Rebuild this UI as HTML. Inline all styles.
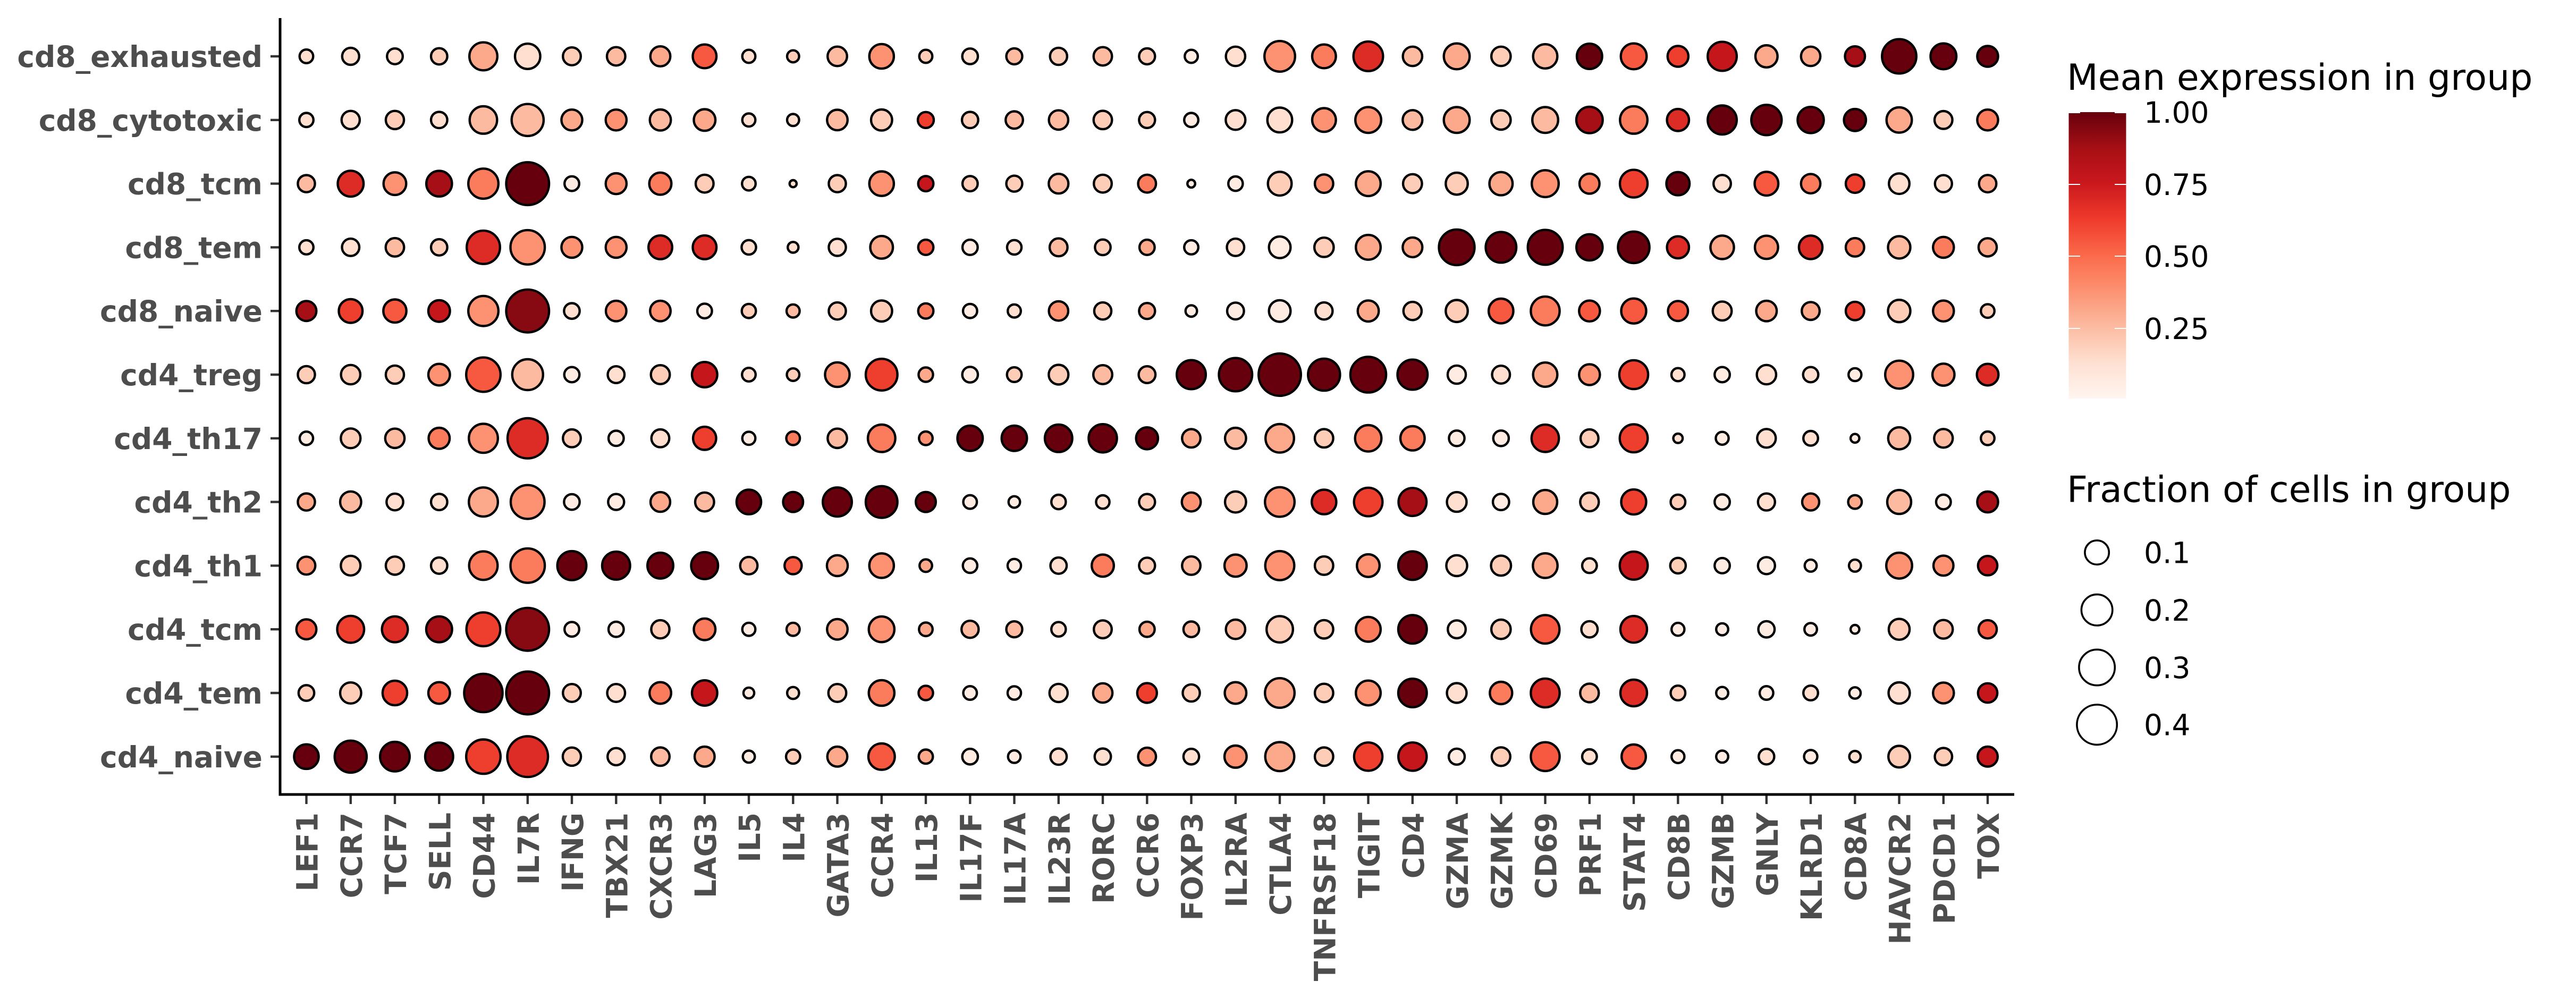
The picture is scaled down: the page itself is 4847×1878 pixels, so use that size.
<!DOCTYPE html>
<html><head><meta charset="utf-8"><style>
html,body{margin:0;padding:0;background:#fff}
svg{display:block}
.k0{fill:#FEEBE2}.k1{fill:#FEDFD0}.k2{fill:#FDCDB8}.k3{fill:#FCBBA1}.k4{fill:#FCA88B}.k5{fill:#FC9272}.k6{fill:#FB7C5C}.k7{fill:#F6593F}.k8{fill:#EE3E2D}.k9{fill:#DC2C25}.k10{fill:#C5161C}.k11{fill:#A50F15}.k12{fill:#870912}.k13{fill:#67000D}
.d circle{stroke:#000;stroke-width:4.4}
.yl{font-family:"DejaVu Sans","Liberation Sans",sans-serif;font-weight:bold;font-size:55px;fill:#4D4D4D;text-anchor:end}
.lg{font-family:"DejaVu Sans","Liberation Sans",sans-serif;fill:#000}
</style></head><body>
<svg width="4847" height="1878" viewBox="0 0 4847 1878" xmlns="http://www.w3.org/2000/svg">
<defs><linearGradient id="reds" x1="0" y1="0" x2="0" y2="1">
<stop offset="0" stop-color="#67000D"/><stop offset="0.125" stop-color="#A50F15"/><stop offset="0.25" stop-color="#CB181D"/><stop offset="0.375" stop-color="#EF3B2C"/><stop offset="0.5" stop-color="#FB6A4A"/><stop offset="0.625" stop-color="#FC9272"/><stop offset="0.75" stop-color="#FCBBA1"/><stop offset="0.875" stop-color="#FEE0D2"/><stop offset="1" stop-color="#FFF5F0"/>
</linearGradient></defs>
<rect width="4847" height="1878" fill="#fff"/>

<!-- y labels -->
<g class="yl">
<text x="494" y="126">cd8_exhausted</text>
<text x="494" y="245.8">cd8_cytotoxic</text>
<text x="494" y="365.6">cd8_tcm</text>
<text x="494" y="485.4">cd8_tem</text>
<text x="494" y="605.2">cd8_naive</text>
<text x="494" y="725">cd4_treg</text>
<text x="494" y="844.8">cd4_th17</text>
<text x="494" y="964.6">cd4_th2</text>
<text x="494" y="1084.4">cd4_th1</text>
<text x="494" y="1204.2">cd4_tcm</text>
<text x="494" y="1324">cd4_tem</text>
<text x="494" y="1443.8">cd4_naive</text>
</g>

<!-- ticks -->
<g stroke="#333" stroke-width="4.4">
<line x1="509" x2="527" y1="106" y2="106"/><line x1="509" x2="527" y1="225.8" y2="225.8"/><line x1="509" x2="527" y1="345.6" y2="345.6"/><line x1="509" x2="527" y1="465.4" y2="465.4"/><line x1="509" x2="527" y1="585.2" y2="585.2"/><line x1="509" x2="527" y1="705" y2="705"/><line x1="509" x2="527" y1="824.8" y2="824.8"/><line x1="509" x2="527" y1="944.6" y2="944.6"/><line x1="509" x2="527" y1="1064.4" y2="1064.4"/><line x1="509" x2="527" y1="1184.2" y2="1184.2"/><line x1="509" x2="527" y1="1304" y2="1304"/><line x1="509" x2="527" y1="1423.8" y2="1423.8"/>
<line x1="576.5" x2="576.5" y1="1495" y2="1513"/><line x1="659.8" x2="659.8" y1="1495" y2="1513"/><line x1="743" x2="743" y1="1495" y2="1513"/><line x1="826.3" x2="826.3" y1="1495" y2="1513"/><line x1="909.5" x2="909.5" y1="1495" y2="1513"/><line x1="992.8" x2="992.8" y1="1495" y2="1513"/><line x1="1076" x2="1076" y1="1495" y2="1513"/><line x1="1159.3" x2="1159.3" y1="1495" y2="1513"/><line x1="1242.5" x2="1242.5" y1="1495" y2="1513"/><line x1="1325.8" x2="1325.8" y1="1495" y2="1513"/><line x1="1409" x2="1409" y1="1495" y2="1513"/><line x1="1492.3" x2="1492.3" y1="1495" y2="1513"/><line x1="1575.5" x2="1575.5" y1="1495" y2="1513"/><line x1="1658.8" x2="1658.8" y1="1495" y2="1513"/><line x1="1742" x2="1742" y1="1495" y2="1513"/><line x1="1825.3" x2="1825.3" y1="1495" y2="1513"/><line x1="1908.5" x2="1908.5" y1="1495" y2="1513"/><line x1="1991.8" x2="1991.8" y1="1495" y2="1513"/><line x1="2075" x2="2075" y1="1495" y2="1513"/><line x1="2158.3" x2="2158.3" y1="1495" y2="1513"/><line x1="2241.5" x2="2241.5" y1="1495" y2="1513"/><line x1="2324.8" x2="2324.8" y1="1495" y2="1513"/><line x1="2408" x2="2408" y1="1495" y2="1513"/><line x1="2491.3" x2="2491.3" y1="1495" y2="1513"/><line x1="2574.5" x2="2574.5" y1="1495" y2="1513"/><line x1="2657.8" x2="2657.8" y1="1495" y2="1513"/><line x1="2741" x2="2741" y1="1495" y2="1513"/><line x1="2824.3" x2="2824.3" y1="1495" y2="1513"/><line x1="2907.5" x2="2907.5" y1="1495" y2="1513"/><line x1="2990.8" x2="2990.8" y1="1495" y2="1513"/><line x1="3074" x2="3074" y1="1495" y2="1513"/><line x1="3157.3" x2="3157.3" y1="1495" y2="1513"/><line x1="3240.5" x2="3240.5" y1="1495" y2="1513"/><line x1="3323.8" x2="3323.8" y1="1495" y2="1513"/><line x1="3407" x2="3407" y1="1495" y2="1513"/><line x1="3490.3" x2="3490.3" y1="1495" y2="1513"/><line x1="3573.5" x2="3573.5" y1="1495" y2="1513"/><line x1="3656.8" x2="3656.8" y1="1495" y2="1513"/><line x1="3740" x2="3740" y1="1495" y2="1513"/>
</g>

<!-- axis lines -->
<line x1="527" y1="34" x2="527" y2="1497.5" stroke="#000" stroke-width="5"/>
<line x1="524.5" y1="1495" x2="3790" y2="1495" stroke="#000" stroke-width="5"/>

<!-- x labels -->
<g class="yl">
<text transform="translate(597.5,1529) rotate(-90)">LEF1</text>
<text transform="translate(680.8,1529) rotate(-90)">CCR7</text>
<text transform="translate(764,1529) rotate(-90)">TCF7</text>
<text transform="translate(847.3,1529) rotate(-90)">SELL</text>
<text transform="translate(930.5,1529) rotate(-90)">CD44</text>
<text transform="translate(1013.8,1529) rotate(-90)">IL7R</text>
<text transform="translate(1097,1529) rotate(-90)">IFNG</text>
<text transform="translate(1180.3,1529) rotate(-90)">TBX21</text>
<text transform="translate(1263.5,1529) rotate(-90)">CXCR3</text>
<text transform="translate(1346.8,1529) rotate(-90)">LAG3</text>
<text transform="translate(1430,1529) rotate(-90)">IL5</text>
<text transform="translate(1513.3,1529) rotate(-90)">IL4</text>
<text transform="translate(1596.5,1529) rotate(-90)">GATA3</text>
<text transform="translate(1679.8,1529) rotate(-90)">CCR4</text>
<text transform="translate(1763,1529) rotate(-90)">IL13</text>
<text transform="translate(1846.3,1529) rotate(-90)">IL17F</text>
<text transform="translate(1929.5,1529) rotate(-90)">IL17A</text>
<text transform="translate(2012.8,1529) rotate(-90)">IL23R</text>
<text transform="translate(2096,1529) rotate(-90)">RORC</text>
<text transform="translate(2179.3,1529) rotate(-90)">CCR6</text>
<text transform="translate(2262.5,1529) rotate(-90)">FOXP3</text>
<text transform="translate(2345.8,1529) rotate(-90)">IL2RA</text>
<text transform="translate(2429,1529) rotate(-90)">CTLA4</text>
<text transform="translate(2512.3,1529) rotate(-90)">TNFRSF18</text>
<text transform="translate(2595.5,1529) rotate(-90)">TIGIT</text>
<text transform="translate(2678.8,1529) rotate(-90)">CD4</text>
<text transform="translate(2762,1529) rotate(-90)">GZMA</text>
<text transform="translate(2845.3,1529) rotate(-90)">GZMK</text>
<text transform="translate(2928.5,1529) rotate(-90)">CD69</text>
<text transform="translate(3011.8,1529) rotate(-90)">PRF1</text>
<text transform="translate(3095,1529) rotate(-90)">STAT4</text>
<text transform="translate(3178.3,1529) rotate(-90)">CD8B</text>
<text transform="translate(3261.5,1529) rotate(-90)">GZMB</text>
<text transform="translate(3344.8,1529) rotate(-90)">GNLY</text>
<text transform="translate(3428,1529) rotate(-90)">KLRD1</text>
<text transform="translate(3511.3,1529) rotate(-90)">CD8A</text>
<text transform="translate(3594.5,1529) rotate(-90)">HAVCR2</text>
<text transform="translate(3677.8,1529) rotate(-90)">PDCD1</text>
<text transform="translate(3761,1529) rotate(-90)">TOX</text>
</g>

<!-- dots -->
<g class="d">
<g transform="translate(0,106)">
<circle cx="576.5" r="12.8" class="k1"/><circle cx="659.8" r="16" class="k1"/><circle cx="743" r="14.8" class="k1"/><circle cx="826.3" r="15.3" class="k2"/><circle cx="909.5" r="26.3" class="k4"/><circle cx="992.8" r="23.8" class="k1"/><circle cx="1076" r="16.8" class="k2"/><circle cx="1159.3" r="17.3" class="k3"/><circle cx="1242.5" r="18.8" class="k4"/><circle cx="1325.8" r="22.3" class="k7"/><circle cx="1409" r="12.3" class="k1"/><circle cx="1492.3" r="11.3" class="k2"/><circle cx="1575.5" r="18.3" class="k3"/><circle cx="1658.8" r="23.1" class="k5"/><circle cx="1742" r="12.3" class="k2"/><circle cx="1825.3" r="14.7" class="k1"/><circle cx="1908.5" r="15" class="k3"/><circle cx="1991.8" r="16.1" class="k2"/><circle cx="2075" r="17.3" class="k3"/><circle cx="2158.3" r="15" class="k2"/><circle cx="2241.5" r="12.3" class="k0"/><circle cx="2324.8" r="18.2" class="k1"/><circle cx="2408" r="28.8" class="k5"/><circle cx="2491.3" r="22.3" class="k6"/><circle cx="2574.5" r="27.8" class="k9"/><circle cx="2657.8" r="18.2" class="k3"/><circle cx="2741" r="24.3" class="k4"/><circle cx="2824.3" r="18.2" class="k2"/><circle cx="2907.5" r="22.8" class="k3"/><circle cx="2990.8" r="23.8" class="k13"/><circle cx="3074" r="24.3" class="k7"/><circle cx="3157.3" r="19.6" class="k8"/><circle cx="3240.5" r="27.3" class="k10"/><circle cx="3323.8" r="20.8" class="k4"/><circle cx="3407" r="18.2" class="k4"/><circle cx="3490.3" r="18.8" class="k11"/><circle cx="3573.5" r="32.3" class="k13"/><circle cx="3656.8" r="24.3" class="k13"/><circle cx="3740" r="19.6" class="k13"/>
</g>
<g transform="translate(0,225.8)">
<circle cx="576.5" r="13.3" class="k1"/><circle cx="659.8" r="17.1" class="k1"/><circle cx="743" r="17.1" class="k2"/><circle cx="826.3" r="15.3" class="k1"/><circle cx="909.5" r="25.8" class="k3"/><circle cx="992.8" r="30.1" class="k3"/><circle cx="1076" r="19.6" class="k4"/><circle cx="1159.3" r="19.6" class="k5"/><circle cx="1242.5" r="19.8" class="k3"/><circle cx="1325.8" r="20.3" class="k4"/><circle cx="1409" r="12.3" class="k1"/><circle cx="1492.3" r="11.3" class="k1"/><circle cx="1575.5" r="19.3" class="k3"/><circle cx="1658.8" r="19.8" class="k2"/><circle cx="1742" r="15" class="k8"/><circle cx="1825.3" r="15.3" class="k2"/><circle cx="1908.5" r="16.3" class="k3"/><circle cx="1991.8" r="18.2" class="k3"/><circle cx="2075" r="17.3" class="k2"/><circle cx="2158.3" r="15" class="k2"/><circle cx="2241.5" r="13.3" class="k0"/><circle cx="2324.8" r="18.5" class="k1"/><circle cx="2408" r="23.3" class="k1"/><circle cx="2491.3" r="22.3" class="k5"/><circle cx="2574.5" r="24.3" class="k5"/><circle cx="2657.8" r="18.5" class="k3"/><circle cx="2741" r="24.3" class="k4"/><circle cx="2824.3" r="18.2" class="k2"/><circle cx="2907.5" r="24.3" class="k3"/><circle cx="2990.8" r="24.8" class="k11"/><circle cx="3074" r="25.8" class="k6"/><circle cx="3157.3" r="20.7" class="k9"/><circle cx="3240.5" r="27.3" class="k13"/><circle cx="3323.8" r="28.5" class="k13"/><circle cx="3407" r="24.6" class="k13"/><circle cx="3490.3" r="20.7" class="k13"/><circle cx="3573.5" r="23.8" class="k4"/><circle cx="3656.8" r="16.8" class="k2"/><circle cx="3740" r="19.6" class="k6"/>
</g>
<g transform="translate(0,345.6)">
<circle cx="576.5" r="16.1" class="k3"/><circle cx="659.8" r="24.3" class="k9"/><circle cx="743" r="21.3" class="k5"/><circle cx="826.3" r="24.1" class="k11"/><circle cx="909.5" r="28.3" class="k6"/><circle cx="992.8" r="40.3" class="k13"/><circle cx="1076" r="13.8" class="k0"/><circle cx="1159.3" r="19.6" class="k5"/><circle cx="1242.5" r="20.8" class="k6"/><circle cx="1325.8" r="16.8" class="k2"/><circle cx="1409" r="12.8" class="k1"/><circle cx="1492.3" r="6.6" class="k1"/><circle cx="1575.5" r="16.1" class="k2"/><circle cx="1658.8" r="23.1" class="k5"/><circle cx="1742" r="14.3" class="k10"/><circle cx="1825.3" r="14.3" class="k2"/><circle cx="1908.5" r="15" class="k2"/><circle cx="1991.8" r="18.5" class="k3"/><circle cx="2075" r="16.8" class="k2"/><circle cx="2158.3" r="16.8" class="k6"/><circle cx="2241.5" r="7.3" class="k0"/><circle cx="2324.8" r="13.6" class="k0"/><circle cx="2408" r="22.3" class="k2"/><circle cx="2491.3" r="17.3" class="k5"/><circle cx="2574.5" r="23.3" class="k4"/><circle cx="2657.8" r="17.8" class="k2"/><circle cx="2741" r="20.7" class="k2"/><circle cx="2824.3" r="21.8" class="k4"/><circle cx="2907.5" r="25.3" class="k5"/><circle cx="2990.8" r="18.8" class="k6"/><circle cx="3074" r="26" class="k8"/><circle cx="3157.3" r="21.8" class="k13"/><circle cx="3240.5" r="16.3" class="k1"/><circle cx="3323.8" r="22.3" class="k7"/><circle cx="3407" r="18.2" class="k6"/><circle cx="3490.3" r="17.3" class="k8"/><circle cx="3573.5" r="19.3" class="k1"/><circle cx="3656.8" r="16" class="k1"/><circle cx="3740" r="16.3" class="k4"/>
</g>
<g transform="translate(0,465.4)">
<circle cx="576.5" r="13.3" class="k1"/><circle cx="659.8" r="16.3" class="k1"/><circle cx="743" r="17.3" class="k3"/><circle cx="826.3" r="15.3" class="k2"/><circle cx="909.5" r="31.3" class="k9"/><circle cx="992.8" r="32.3" class="k5"/><circle cx="1076" r="19.6" class="k5"/><circle cx="1159.3" r="19.6" class="k5"/><circle cx="1242.5" r="22.3" class="k9"/><circle cx="1325.8" r="22.3" class="k9"/><circle cx="1409" r="13.6" class="k1"/><circle cx="1492.3" r="10.1" class="k1"/><circle cx="1575.5" r="16.1" class="k1"/><circle cx="1658.8" r="21.3" class="k4"/><circle cx="1742" r="14.3" class="k7"/><circle cx="1825.3" r="14.3" class="k0"/><circle cx="1908.5" r="13.6" class="k1"/><circle cx="1991.8" r="16.8" class="k3"/><circle cx="2075" r="14.7" class="k2"/><circle cx="2158.3" r="14.3" class="k4"/><circle cx="2241.5" r="13.3" class="k0"/><circle cx="2324.8" r="16.3" class="k1"/><circle cx="2408" r="20.3" class="k0"/><circle cx="2491.3" r="18.2" class="k2"/><circle cx="2574.5" r="23.3" class="k4"/><circle cx="2657.8" r="18.5" class="k4"/><circle cx="2741" r="33.5" class="k13"/><circle cx="2824.3" r="28.8" class="k13"/><circle cx="2907.5" r="32.8" class="k13"/><circle cx="2990.8" r="24.6" class="k13"/><circle cx="3074" r="29.6" class="k13"/><circle cx="3157.3" r="20.7" class="k9"/><circle cx="3240.5" r="22.1" class="k4"/><circle cx="3323.8" r="21.8" class="k5"/><circle cx="3407" r="22.1" class="k9"/><circle cx="3490.3" r="17.3" class="k6"/><circle cx="3573.5" r="21" class="k3"/><circle cx="3656.8" r="19.6" class="k6"/><circle cx="3740" r="17.1" class="k4"/>
</g>
<g transform="translate(0,585.2)">
<circle cx="576.5" r="18.8" class="k11"/><circle cx="659.8" r="22.3" class="k8"/><circle cx="743" r="21.7" class="k7"/><circle cx="826.3" r="20.3" class="k10"/><circle cx="909.5" r="28.3" class="k5"/><circle cx="992.8" r="40.3" class="k12"/><circle cx="1076" r="14.7" class="k1"/><circle cx="1159.3" r="19.3" class="k5"/><circle cx="1242.5" r="19.3" class="k5"/><circle cx="1325.8" r="13.8" class="k0"/><circle cx="1409" r="13.3" class="k2"/><circle cx="1492.3" r="12.3" class="k3"/><circle cx="1575.5" r="16.1" class="k2"/><circle cx="1658.8" r="19.8" class="k2"/><circle cx="1742" r="14.3" class="k6"/><circle cx="1825.3" r="13.3" class="k0"/><circle cx="1908.5" r="12.3" class="k1"/><circle cx="1991.8" r="18.2" class="k5"/><circle cx="2075" r="16.1" class="k2"/><circle cx="2158.3" r="15" class="k4"/><circle cx="2241.5" r="10.8" class="k0"/><circle cx="2324.8" r="15.8" class="k0"/><circle cx="2408" r="20.3" class="k0"/><circle cx="2491.3" r="16.1" class="k1"/><circle cx="2574.5" r="19.8" class="k4"/><circle cx="2657.8" r="17.1" class="k2"/><circle cx="2741" r="20.7" class="k2"/><circle cx="2824.3" r="23.2" class="k7"/><circle cx="2907.5" r="27.1" class="k6"/><circle cx="2990.8" r="19.6" class="k7"/><circle cx="3074" r="23.5" class="k7"/><circle cx="3157.3" r="18.8" class="k7"/><circle cx="3240.5" r="17.8" class="k2"/><circle cx="3323.8" r="19.3" class="k4"/><circle cx="3407" r="16.8" class="k4"/><circle cx="3490.3" r="17.3" class="k8"/><circle cx="3573.5" r="21" class="k2"/><circle cx="3656.8" r="19.6" class="k5"/><circle cx="3740" r="12.8" class="k2"/>
</g>
<g transform="translate(0,705)">
<circle cx="576.5" r="16.1" class="k2"/><circle cx="659.8" r="18.2" class="k2"/><circle cx="743" r="17.1" class="k2"/><circle cx="826.3" r="20.3" class="k5"/><circle cx="909.5" r="32.3" class="k7"/><circle cx="992.8" r="29" class="k3"/><circle cx="1076" r="14.3" class="k0"/><circle cx="1159.3" r="15.8" class="k1"/><circle cx="1242.5" r="17.8" class="k2"/><circle cx="1325.8" r="23.8" class="k10"/><circle cx="1409" r="12.8" class="k1"/><circle cx="1492.3" r="11.8" class="k2"/><circle cx="1575.5" r="23.1" class="k5"/><circle cx="1658.8" r="29.8" class="k8"/><circle cx="1742" r="13.6" class="k4"/><circle cx="1825.3" r="14.7" class="k0"/><circle cx="1908.5" r="13.8" class="k2"/><circle cx="1991.8" r="18.5" class="k2"/><circle cx="2075" r="17.8" class="k3"/><circle cx="2158.3" r="15.8" class="k3"/><circle cx="2241.5" r="27.3" class="k13"/><circle cx="2324.8" r="31.3" class="k13"/><circle cx="2408" r="39.8" class="k13"/><circle cx="2491.3" r="30.1" class="k13"/><circle cx="2574.5" r="33.6" class="k13"/><circle cx="2657.8" r="28.3" class="k13"/><circle cx="2741" r="17.1" class="k0"/><circle cx="2824.3" r="16.8" class="k1"/><circle cx="2907.5" r="22.8" class="k4"/><circle cx="2990.8" r="19.6" class="k5"/><circle cx="3074" r="27.1" class="k8"/><circle cx="3157.3" r="12.3" class="k1"/><circle cx="3240.5" r="14.3" class="k0"/><circle cx="3323.8" r="18.2" class="k1"/><circle cx="3407" r="14.3" class="k1"/><circle cx="3490.3" r="12.1" class="k0"/><circle cx="3573.5" r="26.3" class="k5"/><circle cx="3656.8" r="20.7" class="k5"/><circle cx="3740" r="20.3" class="k9"/>
</g>
<g transform="translate(0,824.8)">
<circle cx="576.5" r="12.6" class="k0"/><circle cx="659.8" r="18.5" class="k2"/><circle cx="743" r="18.2" class="k3"/><circle cx="826.3" r="19.8" class="k6"/><circle cx="909.5" r="27.3" class="k5"/><circle cx="992.8" r="37.8" class="k9"/><circle cx="1076" r="16.8" class="k2"/><circle cx="1159.3" r="14.3" class="k0"/><circle cx="1242.5" r="16.8" class="k1"/><circle cx="1325.8" r="21.7" class="k8"/><circle cx="1409" r="12.3" class="k0"/><circle cx="1492.3" r="12.8" class="k6"/><circle cx="1575.5" r="18.2" class="k3"/><circle cx="1658.8" r="25.8" class="k6"/><circle cx="1742" r="12.8" class="k5"/><circle cx="1825.3" r="23.8" class="k13"/><circle cx="1908.5" r="23.8" class="k13"/><circle cx="1991.8" r="25.8" class="k13"/><circle cx="2075" r="26.6" class="k13"/><circle cx="2158.3" r="20.6" class="k13"/><circle cx="2241.5" r="17.3" class="k4"/><circle cx="2324.8" r="19.8" class="k3"/><circle cx="2408" r="26.8" class="k4"/><circle cx="2491.3" r="17.3" class="k2"/><circle cx="2574.5" r="24.8" class="k6"/><circle cx="2657.8" r="22.8" class="k6"/><circle cx="2741" r="14.6" class="k0"/><circle cx="2824.3" r="14.6" class="k0"/><circle cx="2907.5" r="25.7" class="k9"/><circle cx="2990.8" r="16.8" class="k2"/><circle cx="3074" r="26.3" class="k8"/><circle cx="3157.3" r="8.8" class="k1"/><circle cx="3240.5" r="12.1" class="k0"/><circle cx="3323.8" r="17.5" class="k1"/><circle cx="3407" r="13.8" class="k1"/><circle cx="3490.3" r="8.2" class="k0"/><circle cx="3573.5" r="20.7" class="k3"/><circle cx="3656.8" r="17.5" class="k3"/><circle cx="3740" r="12.8" class="k2"/>
</g>
<g transform="translate(0,944.6)">
<circle cx="576.5" r="16.1" class="k4"/><circle cx="659.8" r="19.8" class="k3"/><circle cx="743" r="15.7" class="k1"/><circle cx="826.3" r="15.3" class="k1"/><circle cx="909.5" r="27.3" class="k4"/><circle cx="992.8" r="31.8" class="k5"/><circle cx="1076" r="14.7" class="k0"/><circle cx="1159.3" r="15" class="k0"/><circle cx="1242.5" r="18.5" class="k4"/><circle cx="1325.8" r="17.8" class="k3"/><circle cx="1409" r="23.1" class="k13"/><circle cx="1492.3" r="18.8" class="k13"/><circle cx="1575.5" r="27.3" class="k13"/><circle cx="1658.8" r="29.8" class="k13"/><circle cx="1742" r="18.8" class="k13"/><circle cx="1825.3" r="12.8" class="k0"/><circle cx="1908.5" r="10.8" class="k0"/><circle cx="1991.8" r="13.6" class="k1"/><circle cx="2075" r="12.6" class="k1"/><circle cx="2158.3" r="15" class="k2"/><circle cx="2241.5" r="17.8" class="k5"/><circle cx="2324.8" r="19.8" class="k2"/><circle cx="2408" r="27.8" class="k5"/><circle cx="2491.3" r="23.1" class="k9"/><circle cx="2574.5" r="26.8" class="k8"/><circle cx="2657.8" r="26.3" class="k11"/><circle cx="2741" r="18.5" class="k1"/><circle cx="2824.3" r="15.3" class="k0"/><circle cx="2907.5" r="22.5" class="k4"/><circle cx="2990.8" r="17.5" class="k2"/><circle cx="3074" r="23.5" class="k8"/><circle cx="3157.3" r="13.8" class="k2"/><circle cx="3240.5" r="14.3" class="k0"/><circle cx="3323.8" r="16" class="k1"/><circle cx="3407" r="16" class="k5"/><circle cx="3490.3" r="12.8" class="k4"/><circle cx="3573.5" r="22.5" class="k3"/><circle cx="3656.8" r="13.8" class="k0"/><circle cx="3740" r="19.6" class="k11"/>
</g>
<g transform="translate(0,1064.4)">
<circle cx="576.5" r="16.8" class="k5"/><circle cx="659.8" r="18.5" class="k2"/><circle cx="743" r="17.1" class="k2"/><circle cx="826.3" r="15.3" class="k1"/><circle cx="909.5" r="26.8" class="k6"/><circle cx="992.8" r="32.3" class="k6"/><circle cx="1076" r="27.3" class="k13"/><circle cx="1159.3" r="26.3" class="k13"/><circle cx="1242.5" r="24.3" class="k13"/><circle cx="1325.8" r="25.3" class="k13"/><circle cx="1409" r="16.3" class="k3"/><circle cx="1492.3" r="16.1" class="k7"/><circle cx="1575.5" r="19.6" class="k4"/><circle cx="1658.8" r="23.1" class="k5"/><circle cx="1742" r="11.8" class="k4"/><circle cx="1825.3" r="13.6" class="k0"/><circle cx="1908.5" r="12.6" class="k0"/><circle cx="1991.8" r="15.3" class="k1"/><circle cx="2075" r="20.8" class="k6"/><circle cx="2158.3" r="15" class="k2"/><circle cx="2241.5" r="17.3" class="k3"/><circle cx="2324.8" r="20.8" class="k5"/><circle cx="2408" r="27.3" class="k5"/><circle cx="2491.3" r="17.3" class="k2"/><circle cx="2574.5" r="21.3" class="k5"/><circle cx="2657.8" r="26.8" class="k13"/><circle cx="2741" r="19.6" class="k1"/><circle cx="2824.3" r="18.8" class="k2"/><circle cx="2907.5" r="23.2" class="k4"/><circle cx="2990.8" r="13.8" class="k1"/><circle cx="3074" r="26.3" class="k10"/><circle cx="3157.3" r="14.6" class="k2"/><circle cx="3240.5" r="14.3" class="k0"/><circle cx="3323.8" r="16" class="k0"/><circle cx="3407" r="11.3" class="k0"/><circle cx="3490.3" r="11.3" class="k1"/><circle cx="3573.5" r="24.3" class="k5"/><circle cx="3656.8" r="18.8" class="k5"/><circle cx="3740" r="18.2" class="k10"/>
</g>
<g transform="translate(0,1184.2)">
<circle cx="576.5" r="18.8" class="k7"/><circle cx="659.8" r="25.3" class="k8"/><circle cx="743" r="24.3" class="k9"/><circle cx="826.3" r="24.3" class="k11"/><circle cx="909.5" r="31.8" class="k8"/><circle cx="992.8" r="40.3" class="k12"/><circle cx="1076" r="13.8" class="k0"/><circle cx="1159.3" r="14.3" class="k0"/><circle cx="1242.5" r="17.1" class="k2"/><circle cx="1325.8" r="20.3" class="k6"/><circle cx="1409" r="12.3" class="k0"/><circle cx="1492.3" r="12.3" class="k3"/><circle cx="1575.5" r="19.3" class="k4"/><circle cx="1658.8" r="24.1" class="k5"/><circle cx="1742" r="12.8" class="k4"/><circle cx="1825.3" r="16.1" class="k3"/><circle cx="1908.5" r="15" class="k3"/><circle cx="1991.8" r="13.6" class="k1"/><circle cx="2075" r="16.8" class="k2"/><circle cx="2158.3" r="14.3" class="k4"/><circle cx="2241.5" r="14.7" class="k3"/><circle cx="2324.8" r="18.2" class="k3"/><circle cx="2408" r="24.8" class="k2"/><circle cx="2491.3" r="17.3" class="k2"/><circle cx="2574.5" r="23.3" class="k6"/><circle cx="2657.8" r="26.8" class="k13"/><circle cx="2741" r="16.8" class="k0"/><circle cx="2824.3" r="18.2" class="k2"/><circle cx="2907.5" r="26.8" class="k7"/><circle cx="2990.8" r="15.3" class="k1"/><circle cx="3074" r="25" class="k9"/><circle cx="3157.3" r="12.1" class="k0"/><circle cx="3240.5" r="11.3" class="k0"/><circle cx="3323.8" r="15.3" class="k0"/><circle cx="3407" r="11.8" class="k0"/><circle cx="3490.3" r="8.2" class="k0"/><circle cx="3573.5" r="19.6" class="k2"/><circle cx="3656.8" r="17.5" class="k3"/><circle cx="3740" r="17.1" class="k7"/>
</g>
<g transform="translate(0,1304)">
<circle cx="576.5" r="14.7" class="k2"/><circle cx="659.8" r="19.8" class="k2"/><circle cx="743" r="23.1" class="k8"/><circle cx="826.3" r="20.3" class="k7"/><circle cx="909.5" r="36.1" class="k13"/><circle cx="992.8" r="40.3" class="k13"/><circle cx="1076" r="16.8" class="k2"/><circle cx="1159.3" r="16.8" class="k1"/><circle cx="1242.5" r="20.3" class="k6"/><circle cx="1325.8" r="23.8" class="k10"/><circle cx="1409" r="10.1" class="k0"/><circle cx="1492.3" r="11.2" class="k1"/><circle cx="1575.5" r="16.8" class="k2"/><circle cx="1658.8" r="24.1" class="k6"/><circle cx="1742" r="13.6" class="k7"/><circle cx="1825.3" r="12.8" class="k0"/><circle cx="1908.5" r="12.6" class="k0"/><circle cx="1991.8" r="17.1" class="k1"/><circle cx="2075" r="18.2" class="k4"/><circle cx="2158.3" r="18.5" class="k8"/><circle cx="2241.5" r="16.1" class="k2"/><circle cx="2324.8" r="20.3" class="k4"/><circle cx="2408" r="27.8" class="k4"/><circle cx="2491.3" r="17.3" class="k2"/><circle cx="2574.5" r="23.3" class="k5"/><circle cx="2657.8" r="26.8" class="k13"/><circle cx="2741" r="18.5" class="k1"/><circle cx="2824.3" r="21" class="k6"/><circle cx="2907.5" r="27.1" class="k9"/><circle cx="2990.8" r="17.5" class="k3"/><circle cx="3074" r="25" class="k9"/><circle cx="3157.3" r="13.8" class="k2"/><circle cx="3240.5" r="11.3" class="k0"/><circle cx="3323.8" r="12.8" class="k0"/><circle cx="3407" r="13.8" class="k1"/><circle cx="3490.3" r="10.7" class="k0"/><circle cx="3573.5" r="20" class="k1"/><circle cx="3656.8" r="19.6" class="k5"/><circle cx="3740" r="18.2" class="k10"/>
</g>
<g transform="translate(0,1423.8)">
<circle cx="576.5" r="23.1" class="k13"/><circle cx="659.8" r="30.1" class="k13"/><circle cx="743" r="27.8" class="k13"/><circle cx="826.3" r="26.3" class="k13"/><circle cx="909.5" r="32.3" class="k8"/><circle cx="992.8" r="38.3" class="k9"/><circle cx="1076" r="17.1" class="k2"/><circle cx="1159.3" r="16.1" class="k1"/><circle cx="1242.5" r="17.3" class="k3"/><circle cx="1325.8" r="18.8" class="k4"/><circle cx="1409" r="11.3" class="k0"/><circle cx="1492.3" r="13.3" class="k2"/><circle cx="1575.5" r="18.8" class="k4"/><circle cx="1658.8" r="24.8" class="k7"/><circle cx="1742" r="13.3" class="k4"/><circle cx="1825.3" r="14.7" class="k0"/><circle cx="1908.5" r="11.8" class="k0"/><circle cx="1991.8" r="15.3" class="k1"/><circle cx="2075" r="15.3" class="k1"/><circle cx="2158.3" r="16.8" class="k5"/><circle cx="2241.5" r="14.7" class="k1"/><circle cx="2324.8" r="20.8" class="k5"/><circle cx="2408" r="27.3" class="k4"/><circle cx="2491.3" r="17.3" class="k2"/><circle cx="2574.5" r="26.6" class="k8"/><circle cx="2657.8" r="26.6" class="k10"/><circle cx="2741" r="15" class="k0"/><circle cx="2824.3" r="17.5" class="k2"/><circle cx="2907.5" r="27.1" class="k7"/><circle cx="2990.8" r="13.8" class="k1"/><circle cx="3074" r="22.8" class="k7"/><circle cx="3157.3" r="12.1" class="k0"/><circle cx="3240.5" r="11.3" class="k0"/><circle cx="3323.8" r="14.6" class="k1"/><circle cx="3407" r="12.5" class="k0"/><circle cx="3490.3" r="10.7" class="k1"/><circle cx="3573.5" r="20.3" class="k2"/><circle cx="3656.8" r="16.3" class="k2"/><circle cx="3740" r="18.8" class="k10"/>
</g>
</g>

<!-- legend: colorbar -->
<text class="lg" x="3889" y="169" font-size="68">Mean expression in group</text>
<rect x="3892.5" y="211" width="108" height="539" fill="url(#reds)"/>
<g stroke="#fff" stroke-width="2">
<line x1="3892.5" x2="3914" y1="212" y2="212"/><line x1="3979" x2="4000.5" y1="212" y2="212"/>
<line x1="3892.5" x2="3914" y1="347" y2="347"/><line x1="3979" x2="4000.5" y1="347" y2="347"/>
<line x1="3892.5" x2="3914" y1="482" y2="482"/><line x1="3979" x2="4000.5" y1="482" y2="482"/>
<line x1="3892.5" x2="3914" y1="618" y2="618"/><line x1="3979" x2="4000.5" y1="618" y2="618"/>
</g>
<g class="lg" font-size="55">
<text x="4034" y="231">1.00</text>
<text x="4034" y="367">0.75</text>
<text x="4034" y="502">0.50</text>
<text x="4034" y="638">0.25</text>
</g>

<!-- legend: size -->
<text class="lg" x="3889" y="944.5" font-size="68">Fraction of cells in group</text>
<g fill="none" stroke="#000" stroke-width="3.6">
<circle cx="3945.6" cy="1039.6" r="22.7"/>
<circle cx="3945.6" cy="1147.8" r="29.2"/>
<circle cx="3945.6" cy="1256" r="33.7"/>
<circle cx="3945.6" cy="1363.7" r="37.7"/>
</g>
<g class="lg" font-size="55">
<text x="4034" y="1059.6">0.1</text>
<text x="4034" y="1167.8">0.2</text>
<text x="4034" y="1276">0.3</text>
<text x="4034" y="1383.7">0.4</text>
</g>
</svg>
</body></html>
